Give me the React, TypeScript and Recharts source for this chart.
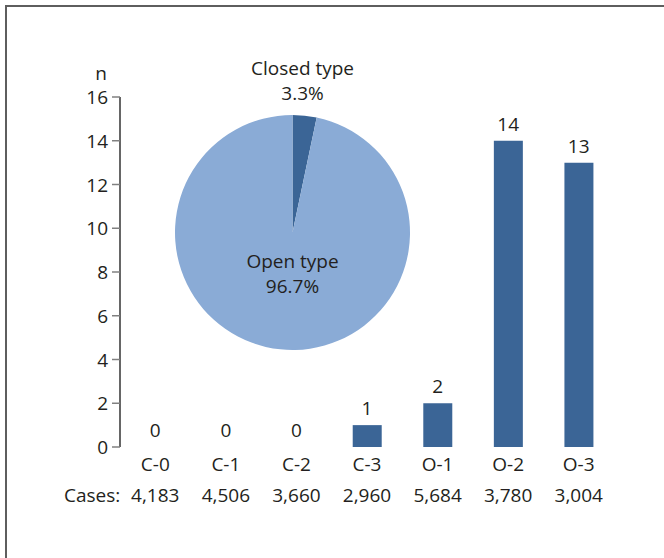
import React from "react";
import { ComposedChart, Bar, Line, XAxis, YAxis, LabelList, PieChart, Pie, Cell, Label } from "recharts";

const categories = ["C-0", "C-1", "C-2", "C-3", "O-1", "O-2", "O-3"];
const counts = [0, 0, 0, 1, 2, 14, 13];
const cases = ["4,183", "4,506", "3,660", "2,960", "5,684", "3,780", "3,004"];
const yTicks = [0, 2, 4, 6, 8, 10, 12, 14, 16];

const pieNames = ["Closed type", "Open type"];
const pieShares = [3.3, 96.7];

const FONT = "'Open Sans', 'Noto Sans', sans-serif";
const FS = 19;
const TEXT = "#231f20";
const DARK = "#3b6596";
const LIGHT = "#8aabd6";

const barData = categories.map((c, i) => ({ name: c, n: counts[i], cases: cases[i] }));
const pieData = pieNames.map((name, i) => ({ name, value: pieShares[i] }));

function CaseTick(props: any) {
  const { x, y, payload, index } = props;
  return (
    <g>
      <text x={x} y={y + 16} textAnchor="middle" fontSize={FS} fill={TEXT} fontFamily={FONT}>
        {payload.value}
      </text>
      <text x={x} y={y + 47} textAnchor="middle" fontSize={FS} fill={TEXT} fontFamily={FONT}>
        {cases[index]}
      </text>
      {index === 0 && (
        <text x={x - 35} y={y + 47} textAnchor="end" fontSize={FS} fill={TEXT} fontFamily={FONT}>
          Cases:
        </text>
      )}
    </g>
  );
}

function YTick(props: any) {
  const { x, y, payload } = props;
  return (
    <text x={x - 2} y={y + 7} textAnchor="end" fontSize={FS} fill={TEXT} fontFamily={FONT}>
      {payload.value}
    </text>
  );
}

function PieLabel(props: any) {
  const { cx, cy, outerRadius, index, name, value } = props;
  const closed = index === 0;
  const x = closed ? cx + 10 : cx;
  const y = closed ? cy - outerRadius - 40 : cy + 35;
  return (
    <text x={x} textAnchor="middle" fontSize={FS} fill={TEXT} fontFamily={FONT}>
      <tspan x={x} y={y}>{name}</tspan>
      <tspan x={x} y={y + 25}>{value.toFixed(1)}%</tspan>
    </text>
  );
}

export default function App() {
  return (
    <div style={{ position: "absolute", left: 0, top: 0, width: 664, height: 558, overflow: "hidden", background: "#fff" }}>
      <div
        style={{
          position: "absolute",
          left: 5,
          top: 5,
          width: 700,
          height: 600,
          borderLeft: "2px solid #5e5e5e",
          borderTop: "2px solid #5e5e5e",
        }}
      />
      <div style={{ position: "absolute", left: 0, top: 0 }}>
        <ComposedChart
          width={664}
          height={558}
          data={barData}
          margin={{ top: 97, right: 50, left: 0, bottom: 61 }}
          barCategoryGap={21}
        >
          <XAxis
            xAxisId="frame"
            type="number"
            domain={[0, 7]}
            ticks={[0, 1, 2, 3, 4, 5, 6, 7]}
            allowDataOverflow
            height={0}
            tick={false}
            tickSize={9}
            axisLine={{ stroke: "#808080", strokeWidth: 1.5 }}
            tickLine={{ stroke: "#808080", strokeWidth: 1.5 }}
          />
          <XAxis
            xAxisId="cat"
            dataKey="name"
            height={50}
            axisLine={false}
            tickLine={false}
            interval={0}
            tick={<CaseTick />}
          />
          <YAxis
            width={120}
            domain={[0, 16]}
            ticks={yTicks}
            interval={0}
            tickSize={8}
            tick={<YTick />}
            axisLine={{ stroke: "#333", strokeWidth: 1.5 }}
            tickLine={{ stroke: "#808080", strokeWidth: 1.5 }}
          >
            <Label
              value="n"
              position="top"
              offset={17}
              dx={41}
              style={{ fontSize: FS, fill: TEXT, fontFamily: FONT }}
            />
          </YAxis>
          <Bar xAxisId="cat" dataKey="n" fill={DARK} isAnimationActive={false} />
          <Line
            xAxisId="cat"
            dataKey="n"
            stroke="none"
            dot={false}
            activeDot={false}
            isAnimationActive={false}
          >
            <LabelList
              dataKey="n"
              position="top"
              offset={10}
              style={{ fontSize: FS, fill: TEXT, fontFamily: FONT }}
            />
          </Line>
        </ComposedChart>
      </div>
      <div style={{ position: "absolute", left: 0, top: 0 }}>
        <PieChart width={664} height={558} margin={{ top: 0, right: 0, bottom: 0, left: 0 }}>
          <Pie
            data={pieData}
            dataKey="value"
            nameKey="name"
            cx={292.5}
            cy={232.5}
            outerRadius={117.5}
            startAngle={90}
            endAngle={-270}
            stroke="none"
            labelLine={false}
            label={PieLabel}
            isAnimationActive={false}
          >
            {pieData.map((d, i) => (
              <Cell key={d.name} fill={i === 0 ? DARK : LIGHT} />
            ))}
          </Pie>
        </PieChart>
      </div>
    </div>
  );
}
